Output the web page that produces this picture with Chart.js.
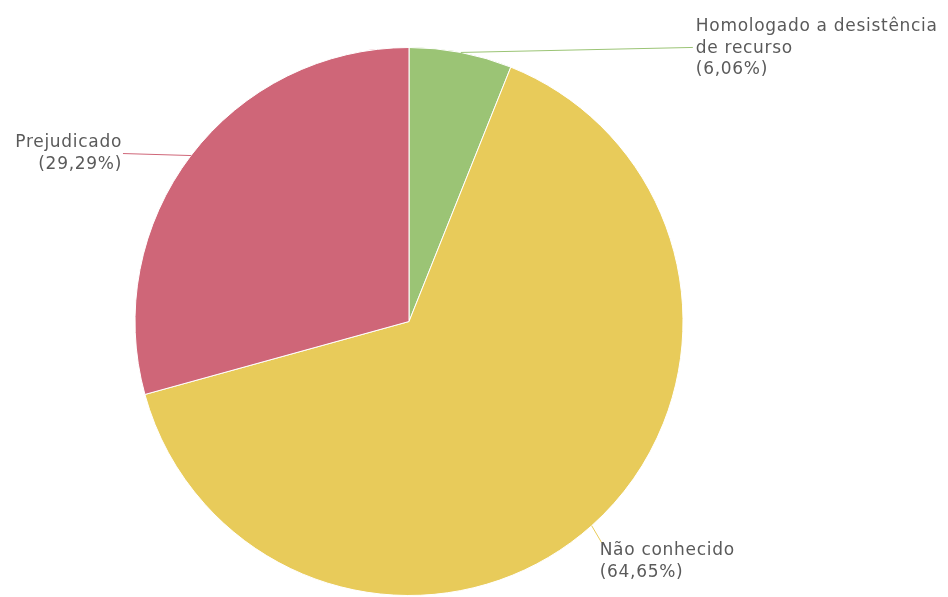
<!DOCTYPE html>
<html>
<head>
<meta charset="utf-8">
<script src="https://cdn.jsdelivr.net/npm/chart.js@4/dist/chart.umd.min.js"></script>
<style>
html,body{margin:0;padding:0;background:#fff;}
#wrap{width:948px;height:597px;position:relative;}
</style>
</head>
<body>
<div id="wrap"><canvas id="c" width="948" height="597"></canvas></div>
<script>
const categories = ["Homologado a desistência de recurso", "Não conhecido", "Prejudicado"];
const labelLines = [["Homologado a desistência", "de recurso", "(6,06%)"], ["Não conhecido", "(64,65%)"], ["Prejudicado", "(29,29%)"]];
const values = [6.06, 64.65, 29.29];
const colors = ["#9bc475", "#e8cb5a", "#cf6678"];

// label layout (styles/positions, kept apart from data)
const labelLayout = [
  {lineEnd: [232, -5], textDx: 3, align: "left", vshift: 1},
  {lineEnd: [10, 17], textDx: -2, align: "left", vshift: 19},
  {lineEnd: [-68, -2], textDx: -1, align: "right", vshift: 0}
];

const labelPlugin = {
  id: "pieLabels",
  afterDatasetsDraw(chart) {
    const ctx = chart.ctx;
    const meta = chart.getDatasetMeta(0);
    ctx.save();
    const lh = 21.5;
    ctx.font = "17px 'DejaVu Sans', sans-serif";
    if ("letterSpacing" in ctx) ctx.letterSpacing = "0.7px";
    ctx.textBaseline = "middle";
    meta.data.forEach((arc, i) => {
      const p = arc.getProps(["x", "y", "startAngle", "endAngle", "outerRadius"], true);
      const mid = (p.startAngle + p.endAngle) / 2;
      const ax = p.x + Math.cos(mid) * p.outerRadius;
      const ay = p.y + Math.sin(mid) * p.outerRadius;
      const L = labelLayout[i];
      const ex = ax + L.lineEnd[0], ey = ay + L.lineEnd[1];
      ctx.strokeStyle = colors[i];
      ctx.lineWidth = 1;
      ctx.beginPath();
      ctx.moveTo(ax, ay);
      ctx.lineTo(ex, ey);
      ctx.stroke();
      const lines = labelLines[i];
      const cy = ey + L.vshift;
      const top = cy - (lines.length - 1) * lh / 2;
      ctx.fillStyle = "#5a5a5a";
      ctx.textAlign = L.align;
      lines.forEach((t, k) => ctx.fillText(t, ex + L.textDx, top + k * lh));
    });
    ctx.restore();
  }
};

new Chart(document.getElementById("c"), {
  type: "pie",
  data: {
    labels: categories,
    datasets: [{
      data: values,
      backgroundColor: colors,
      borderColor: "#ffffff",
      borderWidth: 1,
      hoverOffset: 0
    }]
  },
  options: {
    responsive: false,
    animation: false,
    layout: {padding: {left: 0, right: 130, top: 47, bottom: 1}},
    plugins: {legend: {display: false}, tooltip: {enabled: false}}
  },
  plugins: [labelPlugin]
});
</script>
</body>
</html>
